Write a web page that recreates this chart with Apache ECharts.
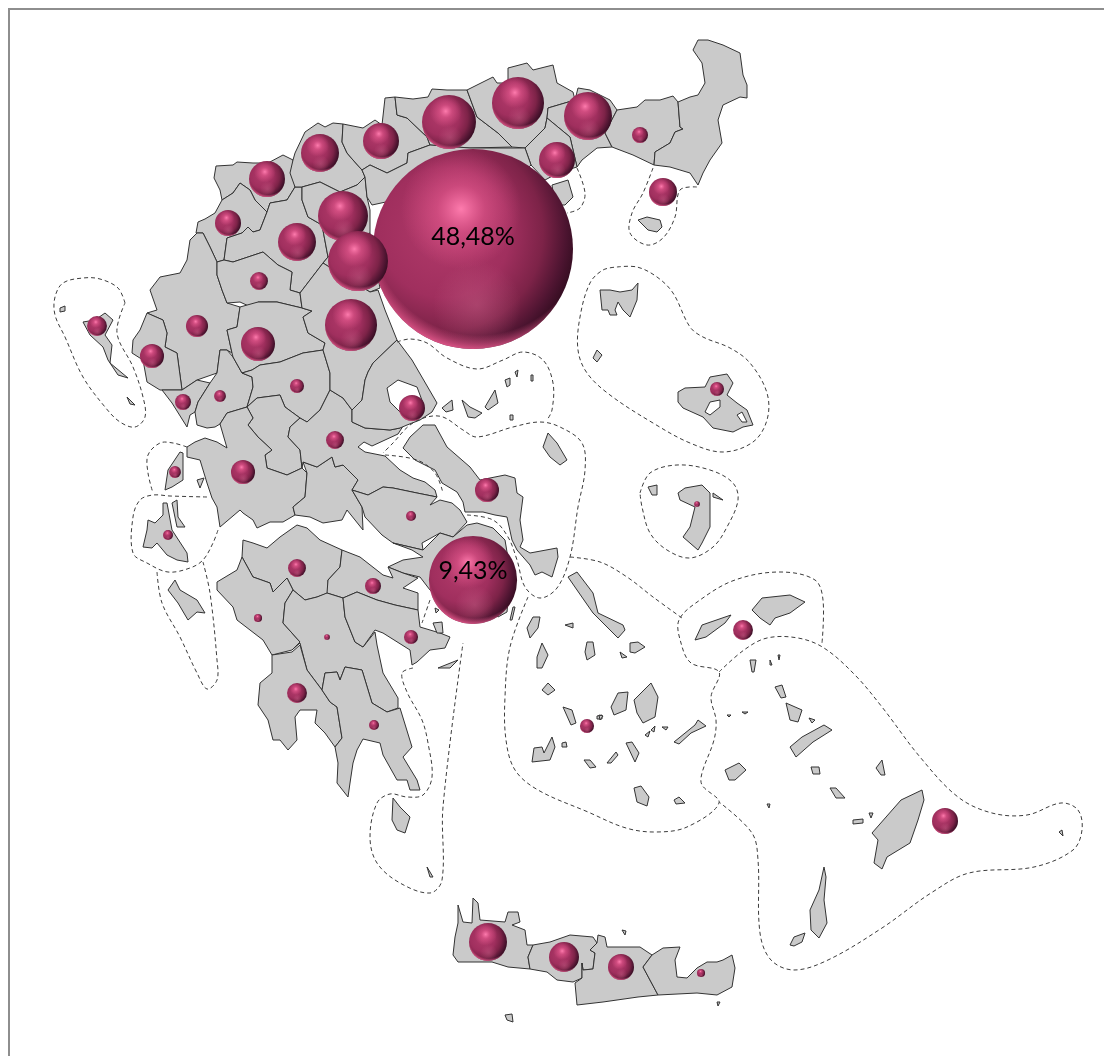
<!DOCTYPE html>
<html><head><meta charset="utf-8">
<style>html,body{margin:0;padding:0;background:#fff}#c{width:1104px;height:1056px}</style>
<script src="https://cdn.jsdelivr.net/npm/echarts@6/dist/echarts.min.js"></script>
</head><body><div id="c"></div>
<script>
// Map units: horizontal, and vertical counted from the top of the sheet
const mainland = {
 Florina:[[216,166],[233,165],[237,162],[253,163],[268,163],[283,155],[293,160],[295,187],[287,200],[270,203],[267,212],[255,200],[250,190],[240,183],[233,193],[222,200],[220,190],[214,178]],
 Kastoria:[[222,200],[233,193],[240,183],[250,190],[255,200],[267,212],[260,230],[253,232],[248,227],[242,233],[227,238],[224,260],[217,262],[210,247],[203,233],[196,233],[198,222],[205,219],[215,213]],
 Kozani:[[267,212],[270,203],[287,200],[295,187],[302,187],[302,200],[308,217],[322,225],[328,257],[323,263],[300,293],[290,290],[292,272],[278,265],[263,252],[248,257],[233,262],[224,260],[227,238],[242,233],[248,227],[253,232],[260,230]],
 Pella:[[293,160],[295,153],[305,132],[318,123],[325,127],[333,123],[343,124],[342,142],[347,153],[353,160],[362,170],[365,177],[357,185],[340,192],[320,182],[302,187],[295,187],[290,173]],
 Imathia:[[302,187],[320,182],[340,192],[357,185],[365,177],[367,197],[370,210],[370,233],[328,257],[322,225],[308,217],[302,200]],
 Pieria:[[328,257],[370,233],[375,262],[380,288],[370,292],[345,277],[323,263]],
 Kilkis:[[343,124],[363,128],[375,120],[382,125],[385,98],[395,97],[397,115],[407,118],[427,137],[430,145],[408,153],[407,163],[387,173],[370,165],[362,170],[353,160],[347,153],[342,142]],
 Serres:[[395,97],[413,99],[428,97],[432,89],[447,90],[467,90],[477,117],[498,133],[512,147],[470,148],[430,145],[427,137],[407,118],[397,115]],
 Drama:[[467,90],[493,77],[497,83],[508,83],[508,68],[527,63],[533,70],[553,65],[557,83],[573,92],[575,100],[548,108],[547,118],[545,128],[525,148],[512,147],[498,133],[477,117]],
 Kavala:[[575,100],[578,88],[590,90],[610,100],[617,110],[605,133],[612,147],[597,148],[582,160],[577,167],[570,137],[547,118],[548,108]],
 Pangaio:[[547,118],[570,137],[577,167],[560,172],[545,180],[531,165],[525,148],[545,128]],
 Thessaloniki:[[362,170],[370,165],[387,173],[407,163],[408,153],[430,145],[470,148],[525,148],[531,165],[510,185],[450,215],[395,200],[372,205],[367,197],[365,177]],
 Xanthi:[[617,110],[637,107],[645,100],[660,100],[673,96],[678,102],[680,127],[683,129],[675,132],[670,143],[655,152],[654,165],[633,155],[612,147],[605,133]],
 Evros:[[678,102],[690,97],[698,95],[705,83],[702,63],[693,50],[698,40],[708,40],[723,45],[740,53],[743,75],[747,85],[747,98],[740,97],[723,105],[718,120],[722,143],[710,160],[703,173],[698,185],[690,173],[670,167],[654,165],[655,152],[670,143],[675,132],[683,129],[680,127]],
 Ioannina:[[160,277],[180,273],[187,260],[190,240],[197,233],[203,233],[210,247],[217,262],[217,275],[222,290],[227,303],[240,307],[237,327],[227,330],[232,353],[227,350],[220,350],[217,373],[197,380],[182,390],[177,353],[165,347],[167,333],[163,320],[147,313],[157,310],[150,290]],
 Grevena:[[217,262],[224,260],[233,262],[248,257],[263,252],[278,265],[292,272],[290,290],[300,293],[302,308],[277,302],[258,302],[253,308],[240,302],[227,303],[222,290],[217,275]],
 Thesprotia:[[147,313],[163,320],[167,333],[165,347],[177,353],[182,390],[160,390],[147,382],[143,360],[132,353],[133,340],[140,330]],
 Preveza:[[162,390],[182,390],[197,380],[210,383],[198,402],[195,412],[190,415],[187,427],[172,403]],
 Arta:[[220,350],[227,350],[233,357],[242,373],[252,377],[253,387],[247,407],[227,413],[220,424],[215,427],[207,428],[197,425],[195,412],[198,402],[210,383],[217,373]],
 Trikala:[[240,307],[258,302],[277,302],[302,308],[312,311],[303,317],[308,333],[325,343],[323,350],[303,353],[280,362],[260,365],[252,370],[242,373],[233,357],[232,353],[227,330],[237,327]],
 Karditsa:[[242,373],[252,370],[260,365],[280,362],[303,353],[323,350],[330,373],[330,390],[320,410],[307,422],[300,418],[285,407],[280,395],[257,398],[247,407],[253,387],[252,377]],
 Evrytania:[[247,407],[257,398],[280,395],[285,407],[300,418],[290,427],[288,437],[300,450],[302,468],[287,475],[267,468],[265,455],[272,450],[258,437],[248,425],[253,418]],
 Aitoloakarnania:[[220,424],[227,413],[247,407],[253,418],[248,425],[258,437],[272,450],[265,455],[267,468],[287,475],[302,468],[307,473],[305,497],[293,507],[295,515],[283,522],[270,522],[257,528],[253,520],[243,513],[240,510],[220,527],[217,507],[212,498],[207,483],[200,460],[187,457],[187,447],[195,442],[205,438],[217,442],[227,448]],
 Fokida:[[303,462],[317,467],[332,457],[335,467],[343,465],[358,480],[352,490],[362,507],[363,530],[347,510],[342,520],[323,523],[310,517],[295,515],[293,507],[305,497],[307,473]],
 Fthiotida:[[288,437],[290,427],[300,418],[307,422],[320,410],[330,390],[343,398],[352,410],[352,422],[365,428],[390,430],[400,428],[405,423],[398,434],[385,440],[372,446],[364,442],[358,447],[365,452],[385,456],[400,470],[413,478],[425,482],[435,490],[437,497],[417,493],[393,488],[383,487],[368,495],[352,490],[358,480],[343,465],[335,467],[332,457],[317,467],[303,462],[302,468],[300,450]],
 Larissa:[[300,293],[323,263],[345,277],[370,292],[378,290],[385,310],[395,335],[397,340],[373,363],[368,372],[365,380],[362,400],[352,410],[343,398],[330,390],[330,373],[323,350],[325,343],[308,333],[303,317],[312,311],[302,308]],
 Magnesia:[[397,340],[412,360],[437,403],[432,412],[420,420],[407,425],[400,428],[390,430],[365,428],[352,422],[352,410],[362,400],[365,380],[368,372],[373,363]],
 Pagasitikos:[[387,388],[398,380],[417,387],[423,403],[403,415],[390,402]],
 Euboea:[[403,448],[410,437],[423,425],[435,425],[447,447],[470,467],[480,480],[505,475],[515,478],[517,493],[523,497],[520,520],[523,540],[520,547],[530,553],[557,548],[558,557],[552,577],[542,572],[535,575],[530,565],[517,550],[512,540],[507,517],[495,515],[483,512],[465,512],[463,502],[457,492],[442,483],[435,470],[415,460]],
 Boeotia:[[352,490],[368,495],[383,487],[393,488],[417,493],[437,497],[430,505],[440,500],[452,503],[460,510],[467,522],[453,537],[440,533],[422,543],[423,550],[393,543],[382,535],[365,517],[362,507]],
 Attica:[[393,543],[423,550],[440,533],[453,537],[467,525],[477,523],[493,528],[505,540],[510,570],[508,600],[507,612],[498,617],[490,610],[460,620],[430,590],[420,577],[403,573],[388,567],[403,560],[423,557],[412,550]],
 Achaia:[[243,540],[253,543],[267,548],[280,537],[297,525],[307,528],[320,540],[342,550],[340,567],[328,580],[328,593],[317,597],[305,600],[293,590],[287,578],[273,592],[270,583],[253,577],[242,557]],
 Corinthia:[[342,550],[360,557],[383,575],[393,578],[388,567],[403,573],[418,578],[403,588],[418,593],[418,610],[395,605],[377,600],[357,592],[343,598],[327,593],[328,580],[340,567]],
 Ilia:[[242,557],[253,577],[270,583],[273,592],[287,578],[293,590],[285,603],[283,623],[300,642],[292,650],[272,655],[263,640],[237,620],[233,607],[217,590],[217,582],[237,570]],
 Arkadia:[[293,590],[305,600],[317,597],[327,593],[343,598],[345,617],[355,642],[363,647],[375,632],[377,645],[383,673],[398,698],[398,708],[387,712],[372,703],[362,670],[345,667],[340,680],[337,672],[325,673],[322,690],[307,670],[300,643],[292,650],[300,642],[283,623],[285,603]],
 Argolis:[[343,598],[357,592],[377,600],[395,605],[418,610],[420,627],[440,633],[450,637],[445,648],[430,650],[417,662],[412,665],[410,650],[383,633],[375,630],[363,647],[355,642],[345,617]],
 Messinia:[[272,655],[292,652],[300,645],[307,670],[322,690],[330,702],[337,707],[342,738],[335,747],[325,733],[315,723],[317,710],[300,710],[295,717],[297,740],[288,750],[280,740],[273,740],[268,720],[258,705],[260,683],[272,673]],
 Laconia:[[322,690],[325,673],[337,672],[340,680],[345,667],[362,670],[372,703],[387,712],[400,708],[412,747],[403,757],[417,780],[420,790],[410,790],[407,780],[397,780],[383,755],[380,743],[363,739],[357,750],[353,763],[350,783],[348,797],[337,783],[338,763],[335,747],[342,738],[337,707],[330,702]]
};
const northAegean = {
 Thasos:[[552,185],[568,180],[573,197],[565,205],[555,205]],
 Samothrace:[[638,220],[647,217],[660,220],[662,227],[657,232],[648,230]],
 Limnos:[[600,290],[610,290],[620,292],[632,290],[638,283],[637,300],[630,317],[623,310],[618,302],[615,310],[617,315],[610,315],[608,310],[602,310]],
 Efstratios:[[597,350],[602,355],[597,362],[593,358]],
 Lesvos:[[678,392],[685,388],[705,387],[710,377],[727,374],[733,383],[727,395],[737,403],[747,410],[753,425],[743,427],[733,432],[713,428],[703,417],[683,408],[678,402]],
 Kalloni:[[705,412],[710,402],[720,400],[720,407],[710,415]],
 Gera:[[737,415],[742,412],[747,422],[742,422]],
 Skiathos:[[442,408],[452,400],[453,410],[446,412]],
 Skopelos:[[462,400],[470,407],[482,413],[475,418],[468,417]],
 Alonissos:[[485,407],[495,390],[498,403],[488,410]],
 Peristera:[[505,380],[510,378],[510,385],[507,387]],
 Kyra:[[515,372],[518,370],[517,377]],
 Psathoura:[[531,375],[533,375],[533,381],[531,381]],
 Piperi:[[510,415],[513,415],[513,420],[510,420]],
 Skyros:[[543,447],[548,433],[557,443],[567,460],[560,465],[550,457]],
 Chios:[[678,493],[685,488],[702,485],[710,493],[710,527],[702,543],[698,550],[683,537],[690,527],[695,507],[680,500]],
 Oinousses:[[713,493],[723,500],[713,497]],
 Psara:[[648,487],[657,485],[657,495],[652,495]],
 Ikaria:[[695,640],[702,625],[731,615],[725,623],[706,637]],
 Samos:[[752,610],[762,598],[790,595],[805,602],[790,613],[775,618],[770,625],[760,618]]
};
const ionian = {
 Corfu:[[83,322],[95,320],[105,313],[113,320],[105,335],[112,345],[110,363],[128,378],[118,375],[108,360],[103,347],[90,335]],
 Paxoi:[[127,397],[135,405],[130,404]],
 Othonoi:[[60,308],[65,306],[65,311],[60,312]],
 Lefkada:[[165,490],[168,470],[180,452],[183,453],[183,480],[172,487]],
 Meganisi:[[197,480],[204,478],[200,488]],
 Kefalonia:[[143,547],[147,530],[148,520],[155,523],[163,515],[163,503],[167,503],[172,530],[187,553],[188,562],[177,560],[167,555],[157,543],[152,548]],
 Ithaca:[[172,503],[177,500],[178,517],[185,527],[177,527]],
 Zakynthos:[[168,590],[175,580],[180,590],[197,600],[205,613],[197,612],[188,620],[178,603]]
};
const southAegean = {
 Aegina:[[433,623],[442,622],[443,633],[437,633]],
 Poros:[[435,608],[439,610],[436,613]],
 Hydra:[[438,668],[458,660],[450,668]],
 Makronisos:[[513,607],[515,607],[512,620],[510,620]],
 Kea:[[533,617],[540,617],[538,628],[530,638],[527,628]],
 Kythira:[[393,798],[400,807],[410,817],[405,833],[397,830],[392,820]],
 Antikythera:[[427,867],[433,877],[430,877]],
 Andros:[[568,577],[577,572],[593,593],[598,613],[623,625],[625,630],[618,638],[607,627],[593,613],[577,590]],
 Gyaros:[[565,625],[573,623],[573,628]],
 Kythnos:[[537,657],[542,643],[548,655],[542,668],[537,668]],
 Serifos:[[542,690],[548,683],[555,690],[548,695]],
 Syros:[[587,642],[593,642],[595,655],[587,660],[585,652]],
 Mykonos:[[630,643],[638,642],[645,647],[635,653],[630,652]],
 Delos:[[620,652],[627,657],[622,658]],
 Paros:[[611,707],[618,693],[628,692],[626,710],[614,715]],
 Naxos:[[634,700],[651,683],[658,697],[655,717],[643,723],[637,713]],
 Amorgos:[[674,742],[695,725],[698,720],[706,726],[691,733],[679,744]],
 Milos:[[532,762],[534,748],[542,747],[544,753],[552,737],[555,747],[550,760]],
 Kimolos:[[562,743],[566,742],[567,747],[562,747]],
 Sifnos:[[563,707],[572,710],[576,723],[571,725]],
 Folegandros:[[584,760],[590,760],[596,767],[590,768]],
 Sikinos:[[607,763],[616,752],[618,755],[611,763]],
 Ios:[[626,743],[632,742],[639,753],[635,762]],
 Iraklia:[[597,716],[602,715],[602,719],[597,719]],
 Schinoussa:[[645,735],[650,731],[648,737]],
 Koufonisi:[[651,730],[655,726],[654,732]],
 Donousa:[[662,727],[668,727],[666,730]],
 Santorini:[[634,788],[641,786],[649,797],[647,806],[637,802]],
 Anafi:[[674,800],[679,797],[685,803],[676,804]],
 Antiparos:[[599,715],[603,716],[600,720]]
};
const dodecanese = {
 Patmos:[[750,660],[756,660],[754,672],[752,672]],
 Lipsi:[[770,660],[772,665],[770,665]],
 Leros:[[775,687],[782,685],[786,697],[781,698]],
 Kalymnos:[[786,703],[802,710],[798,722],[790,720]],
 Pserimos:[[809,718],[815,720],[812,723]],
 Kos:[[790,747],[802,737],[824,725],[832,730],[813,742],[796,757]],
 Nisyros:[[811,767],[819,767],[820,774],[813,774]],
 Tilos:[[830,788],[836,788],[845,798],[836,798]],
 Symi:[[876,768],[882,760],[885,775],[881,775]],
 Rhodes:[[872,833],[901,800],[922,790],[924,800],[918,820],[910,843],[887,857],[882,869],[874,863],[878,840]],
 Chalki:[[853,820],[863,819],[863,823],[853,824]],
 Alimia:[[869,813],[873,813],[871,818]],
 Karpathos:[[824,867],[826,877],[824,900],[827,923],[819,938],[811,930],[810,910],[819,890]],
 Kasos:[[790,945],[794,937],[805,933],[802,942],[794,946]],
 Astypalea:[[725,770],[739,763],[746,770],[735,780],[729,780]],
 Levitha:[[742,712],[748,712],[745,714]],
 Kinaros:[[727,715],[731,715],[729,717]],
 Syrna:[[767,804],[770,804],[769,808]],
 Kastellorizo:[[1059,832],[1062,830],[1063,836]],
 Agathonisi:[[778,655],[780,655],[779,660]]
};
const crete = {
 Chania:[[458,923],[458,905],[463,922],[472,923],[473,898],[478,903],[480,920],[505,922],[508,912],[518,912],[520,922],[512,925],[525,930],[527,945],[533,945],[528,957],[530,969],[508,967],[492,962],[458,962],[453,955],[455,937]],
 Rethymno:[[533,945],[550,942],[570,935],[593,937],[597,943],[590,950],[595,953],[593,969],[583,970],[582,963],[582,978],[573,982],[557,980],[547,972],[530,969],[528,957]],
 Heraklion:[[597,943],[598,935],[605,937],[607,947],[640,947],[652,955],[643,967],[658,995],[638,997],[603,1002],[577,1005],[575,983],[582,978],[582,963],[583,970],[593,969],[595,953],[590,950]],
 Lasithi:[[652,955],[663,948],[680,947],[675,960],[677,977],[687,978],[697,968],[707,962],[717,962],[723,960],[732,955],[735,968],[732,987],[717,995],[697,993],[658,995],[643,967]],
 Gavdos:[[505,1015],[512,1014],[513,1022],[507,1020]],
 Dia:[[622,930],[626,931],[625,935]],
 Koufonisi2:[[717,1002],[720,1002],[718,1006]]
};
const lakes = ['Pagasitikos','Kalloni','Gera'];

const dashedRoutes = [
 [[125,303],[118,288],[100,279],[83,278],[63,283],[55,297],[55,315],[65,337],[83,377],[105,407],[120,422],[135,427],[145,417],[143,397],[133,367],[117,333],[125,303]],
 [[187,447],[173,443],[160,443],[148,455],[148,473],[153,493]],
 [[207,497],[170,496],[153,495],[140,500],[133,517],[133,553],[147,563],[168,572],[190,568],[203,560],[213,543],[218,530]],
 [[157,572],[162,603],[180,637],[197,673],[207,689],[217,680],[217,660],[210,593],[203,562]],
 [[413,668],[402,673],[407,692],[422,720],[428,743],[432,777],[423,795],[407,797],[390,794],[377,803],[370,837],[377,863],[400,883],[430,893],[442,880],[443,807],[463,643]],
 [[385,455],[417,460],[435,473],[443,493]],
 [[467,515],[493,520],[508,537],[517,560],[525,587],[540,598],[557,588],[570,557],[578,507],[585,470],[582,443],[560,427],[540,422],[513,427],[477,437],[463,430],[443,417],[427,417],[410,425],[393,443],[383,453]],
 [[397,342],[410,339],[427,343],[447,358],[477,369],[503,360],[523,352],[543,360],[553,383],[552,410],[547,420]],
 [[617,267],[637,267],[657,277],[673,293],[690,327],[703,337],[730,348],[750,363],[767,393],[767,420],[753,442],[723,452],[690,443],[653,423],[610,395],[587,373],[578,350],[580,317],[590,283],[603,270],[617,267]],
 [[653,168],[643,193],[632,213],[630,233],[647,245],[663,238],[675,217],[680,190],[697,187]],
 [[577,168],[585,193],[580,208],[567,213]],
 [[640,493],[650,473],[677,465],[710,470],[733,483],[738,500],[727,527],[713,547],[690,558],[667,550],[650,533],[642,507],[640,493]],
 [[570,557],[600,562],[627,577],[653,597],[682,618]],
 [[528,597],[510,647],[505,697],[506,740],[515,770],[538,790],[588,812],[626,828],[656,832],[687,827],[719,803],[702,785],[702,773],[714,740],[716,720],[711,697],[719,672],[691,663],[681,643],[679,620],[700,600],[735,580],[780,572],[815,580],[823,600],[822,643]],
 [[719,672],[744,650],[767,638],[798,638],[824,648],[855,675],[882,707],[920,757],[958,797],[992,813],[1027,815],[1061,803],[1078,810],[1082,830],[1073,850],[1034,867],[969,873],[931,893],[882,928],[828,960],[794,970],[771,960],[760,933],[758,860],[752,833],[719,802]],
 [[430,600],[422,623]]
];

// Percentage share per prefecture, with the place each sphere sits at
const bubbleX =    [473,473,449,518,588,381,320,267,557,640,663,228,297,343,358,259,351,197,152,97,258,297,220,183,412,335,243,487,411,175,168,717,697,297,373,258,327,411,297,374,587,743,945,488,564,621,701];
const bubbleY =    [249,580,122,103,116,141,153,179,160,135,192,223,242,216,261,281,325,326,356,326,344,386,396,402,408,440,472,490,516,472,535,389,504,568,586,618,637,637,693,725,726,630,821,942,957,967,973];
const bubbleShare =[48.48,9.43,3.53,3.28,2.79,1.57,1.75,1.57,1.57,0.31,0.95,0.82,1.75,3.03,4.36,0.39,3.28,0.59,0.70,0.48,1.40,0.24,0.17,0.31,0.82,0.39,0.70,0.70,0.12,0.17,0.12,0.24,0.04,0.39,0.31,0.08,0.04,0.24,0.48,0.12,0.24,0.48,0.82,1.75,1.09,0.82,0.08];
const bubbleLabels = {0:'48,48%',1:'9,43%'};
const SHEET_H = 1056;

function feature(name, pts){
  return {type:'Feature',properties:{name},geometry:{type:'Polygon',coordinates:[pts.concat([pts[0]]).map(p=>[p[0],SHEET_H-p[1]])]}};
}
const groups=[mainland,northAegean,ionian,southAegean,dodecanese,crete];
const features=[];
groups.forEach(g=>Object.keys(g).forEach(k=>features.push(feature(k,g[k]))));
echarts.registerMap('greece',{type:'FeatureCollection',features});

const G=(x,y,r,stops)=>new echarts.graphic.RadialGradient(x,y,r,stops.map(s=>({offset:s[0],color:s[1]})));
const sphereBase=G(.36,.42,.72,[[0,'#b13a6a'],[.45,'#a02f5e'],[.68,'#7d2348'],[.84,'#4c1430'],[.96,'#2a0a1a'],[1,'#1e0612']]);
const sphereGlow=G(.52,.78,.22,[[0,'rgba(205,100,140,.42)'],[1,'rgba(205,100,140,0)']]);
const sphereRim=G(.53,.40,.61,[[0,'rgba(226,84,136,0)'],[.87,'rgba(226,84,136,0)'],[1,'rgba(228,88,140,1)']]);
const sphereShine=G(.44,.3,.3,[[0,'rgba(255,125,175,.98)'],[.4,'rgba(240,95,150,.5)'],[1,'rgba(235,90,145,0)']]);

const chart=echarts.init(document.getElementById('c'),null,{renderer:'canvas',width:1104,height:1056});
chart.setOption({
  animation:false,
  backgroundColor:'#ffffff',
  graphic:[{type:'rect',z:100,silent:true,shape:{x:9,y:9,width:1300,height:1300},style:{fill:'none',stroke:'#8e8e8e',lineWidth:2}}],
  geo:{map:'greece',left:0,top:0,width:1104,height:1056,aspectScale:1,roam:false,silent:true,
    boundingCoords:[[0,SHEET_H],[1104,0]],
    label:{show:false},
    itemStyle:{areaColor:'#cacaca',borderColor:'#333333',borderWidth:1},
    regions:lakes.map(n=>({name:n,itemStyle:{areaColor:'#ffffff'}}))
  },
  series:[
   {type:'custom',coordinateSystem:'geo',silent:true,z:3,
    data:dashedRoutes.map((r,i)=>[i,0]),
    renderItem:(p,api)=>({type:'polyline',
      shape:{points:dashedRoutes[api.value(0)].map(q=>api.coord([q[0],SHEET_H-q[1]])),smooth:.35},
      style:{fill:null,stroke:'#3c3c3c',lineWidth:1,lineDash:[4,3]}})
   },
   {type:'custom',coordinateSystem:'geo',silent:true,z:5,
    encode:{lng:0,lat:1},
    data:bubbleShare.map((v,i)=>[bubbleX[i],SHEET_H-bubbleY[i],v,i]),
    renderItem:(p,api)=>{
      const c=api.coord([api.value(0),api.value(1)]);
      const r=100*Math.sqrt(api.value(2)/48.48);
      const shape={cx:c[0],cy:c[1],r};
      const kids=[sphereBase,sphereGlow,sphereRim,sphereShine].map(f=>({type:'circle',shape,style:{fill:f}}));
      const lab=bubbleLabels[api.value(3)];
      if(lab) kids.push({type:'text',style:{text:lab,x:c[0],y:c[1]-(r>60?12:9),align:'center',verticalAlign:'middle',fill:'#000',font:'25px Lato'}});
      return {type:'group',children:kids};
    }
   }
  ]
});
</script></body></html>
